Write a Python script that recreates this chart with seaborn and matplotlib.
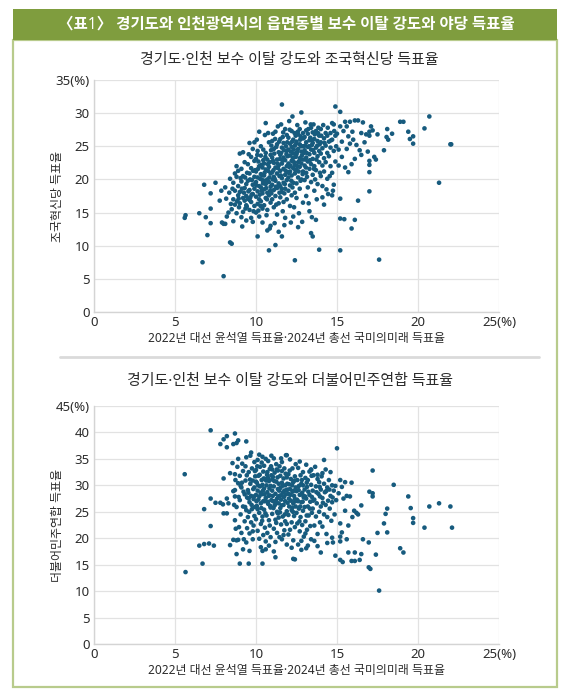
import matplotlib
matplotlib.use("Agg")
import matplotlib.pyplot as plt
import seaborn as sns
import pandas as pd
from matplotlib.patches import Rectangle
from matplotlib.lines import Line2D

# 제목/라벨
header = "〈표1〉 경기도와 인천광역시의 읍면동별 보수 이탈 강도와 야당 득표율"
title1 = "경기도·인천 보수 이탈 강도와 조국혁신당 득표율"
title2 = "경기도·인천 보수 이탈 강도와 더불어민주연합 득표율"
xlabel = "2022년 대선 윤석열 득표율·2024년 총선 국미의미래 득표율"
ylabel1 = "조국혁신당 득표율"
ylabel2 = "더불어민주연합 득표율"

x_ticks = [0, 5, 10, 15, 20, 25]
x_ticklabels = ["0", "5", "10", "15", "20", "25(%)"]
y1_ticks = [0, 5, 10, 15, 20, 25, 30, 35]
y1_ticklabels = ["0", "5", "10", "15", "20", "25", "30", "35(%)"]
y2_ticks = [0, 5, 10, 15, 20, 25, 30, 35, 40, 45]
y2_ticklabels = ["0", "5", "10", "15", "20", "25", "30", "35", "40", "45(%)"]

# 조국혁신당 (x: 보수 이탈 강도, y: 득표율)
x1 = [5.6, 5.65, 6.5, 6.7, 6.8, 6.9, 7.0, 7.2, 7.2, 7.2, 7.5, 7.76, 7.86, 7.9, 8.0, 8.0, 8.1, 8.1, 8.16, 8.4,
      8.4, 8.5, 8.3, 8.2, 8.45, 8.35,
      8.5, 8.6, 8.6, 8.7, 8.7, 8.8, 8.8, 8.9, 8.9, 8.9, 8.6, 8.8, 8.55, 8.95, 8.7,
      9.0, 9.0, 9.1, 9.1, 9.1, 9.2, 9.2, 9.2, 9.3, 9.3, 9.3, 9.4, 9.4, 9.4, 9.0, 9.2, 9.45, 9.35, 9.15, 9.05, 9.25, 9.4,
      9.5, 9.5, 9.5, 9.6, 9.6, 9.6, 9.6, 9.7, 9.7, 9.7, 9.7, 9.8, 9.8, 9.8, 9.8, 9.9, 9.9, 9.9, 9.9, 9.55, 9.65, 9.75,
      9.85, 9.95, 9.6, 9.9,
      10.0, 10.0, 10.0, 10.0, 10.0, 10.1, 10.1, 10.1, 10.1, 10.1, 10.2, 10.2, 10.2, 10.2, 10.3, 10.3, 10.3, 10.3, 10.3,
      10.4, 10.4, 10.4, 10.4, 10.4, 10.05, 10.15, 10.25, 10.35, 10.45, 10.2, 10.45, 10.15,
      10.5, 10.5, 10.5, 10.5, 10.6, 10.6, 10.6, 10.6, 10.6, 10.7, 10.7, 10.7, 10.7, 10.7, 10.8, 10.8, 10.8, 10.8, 10.8,
      10.9, 10.9, 10.9, 10.9, 10.9, 10.55, 10.65, 10.75, 10.85, 10.95, 10.55, 10.75, 10.95, 10.85,
      11.0, 11.0, 11.0, 11.0, 11.0, 11.1, 11.1, 11.1, 11.1, 11.1, 11.2, 11.2, 11.2, 11.2, 11.2, 11.3, 11.3, 11.3, 11.3,
      11.3, 11.4, 11.4, 11.4, 11.4, 11.4, 11.05, 11.15, 11.25, 11.35, 11.45, 11.05, 11.25, 11.45, 11.15, 11.35,
      11.5, 11.5, 11.5, 11.5, 11.5, 11.6, 11.6, 11.6, 11.6, 11.6, 11.6, 11.7, 11.7, 11.7, 11.7, 11.7, 11.8, 11.8, 11.8,
      11.8, 11.8, 11.9, 11.9, 11.9, 11.9, 11.9, 11.55, 11.65, 11.75, 11.85, 11.95, 11.55, 11.75, 11.95, 11.65,
      12.0, 12.0, 12.0, 12.0, 12.0, 12.1, 12.1, 12.1, 12.1, 12.1, 12.2, 12.2, 12.2, 12.2, 12.2, 12.3, 12.3, 12.3, 12.3,
      12.3, 12.4, 12.4, 12.4, 12.4, 12.4, 12.05, 12.15, 12.25, 12.35, 12.45, 12.05, 12.25, 12.45, 12.15, 12.35,
      12.5, 12.5, 12.5, 12.5, 12.5, 12.6, 12.6, 12.6, 12.6, 12.6, 12.7, 12.7, 12.7, 12.7, 12.7, 12.8, 12.8, 12.8, 12.8,
      12.8, 12.9, 12.9, 12.9, 12.9, 12.9, 12.55, 12.65, 12.75, 12.85, 12.95, 12.55, 12.75,
      13.0, 13.0, 13.0, 13.0, 13.1, 13.1, 13.1, 13.1, 13.1, 13.2, 13.2, 13.2, 13.2, 13.3, 13.3, 13.3, 13.3, 13.4, 13.4,
      13.4, 13.4, 13.4, 13.05, 13.15, 13.25, 13.35, 13.45, 13.5, 13.45, 13.05,
      13.5, 13.5, 13.5, 13.5, 13.6, 13.6, 13.6, 13.6, 13.7, 13.7, 13.7, 13.7, 13.8, 13.8, 13.8, 13.9, 13.9, 13.9, 13.9,
      13.55, 13.65, 13.75, 13.85, 13.95,
      14.0, 14.0, 14.0, 14.0, 14.1, 14.1, 14.1, 14.2, 14.2, 14.2, 14.3, 14.3, 14.3, 14.4, 14.4, 14.4, 14.45, 14.15,
      14.35, 14.1, 14.2, 14.7,
      14.5, 14.5, 14.6, 14.6, 14.6, 14.7, 14.7, 14.7, 14.8, 14.8, 14.8, 14.9, 14.9, 14.9, 14.55, 14.75, 14.95,
      15.0, 15.1, 15.1, 15.2, 15.2, 15.2, 15.2, 15.2, 15.3, 15.3, 15.4, 15.45, 15.5, 15.5, 15.6, 15.6, 15.7, 15.7,
      15.8, 15.8, 15.9, 15.9, 15.95,
      16.0, 16.1, 16.1, 16.1, 16.2, 16.3, 16.3, 16.4, 16.5, 16.5, 16.6, 16.7, 16.8, 16.9, 17.0, 17.0, 17.0, 17.0,
      17.0, 17.0,
      17.1, 17.2, 17.3, 17.4, 17.5, 17.6, 17.9, 18.06, 18.1, 18.16, 18.4, 18.9, 19.1, 19.4, 19.5, 19.7, 19.7, 20.4,
      20.7, 21.3, 22.0, 22.05]
y1 = [14.2, 14.6, 14.9, 7.5, 19.2, 14.3, 11.6, 17.9, 15.6, 13.4, 19.5, 16.8, 18.3, 13.5, 13.3, 5.4, 13.3, 18.8, 17.1, 20.1,
      10.5, 10.3, 15.0, 14.4, 16.3, 18.0,
      15.5, 17.0, 19.5, 16.2, 18.3, 20.4, 14.9, 17.6, 19.0, 21.3, 13.7, 22.0, 18.6, 15.8, 20.9,
      16.4, 18.1, 19.7, 21.6, 14.3, 17.2, 15.1, 20.5, 18.7, 16.8, 22.6, 19.3, 17.5, 13.8, 23.9, 24.1, 21.0, 15.6, 12.9, 20.2, 18.0, 16.1,
      17.1, 19.8, 22.3, 15.4, 18.4, 20.9, 25.5, 16.6, 21.7, 23.4, 14.2, 17.8, 19.2, 24.6, 13.6, 16.0, 20.4, 22.8, 18.6, 23.8, 17.3, 19.9,
      15.2, 21.4, 16.9, 25.6,
      17.4, 19.6, 21.2, 23.1, 15.0, 18.2, 20.3, 16.3, 24.3, 11.4, 17.0, 19.0, 22.0, 14.4, 18.8, 20.8, 16.7, 23.6, 25.0,
      17.9, 19.9, 21.8, 15.6, 13.5, 26.0, 22.7, 20.1, 18.3, 24.5, 27.2, 22.9, 15.3,
      18.5, 20.6, 22.4, 16.1, 19.3, 21.5, 24.0, 17.2, 28.5, 18.0, 20.0, 23.0, 15.4, 12.3, 19.6, 21.9, 25.6, 17.6, 9.3,
      18.9, 20.9, 23.7, 16.5, 13.0, 26.7, 14.6, 27.0, 22.6, 25.1, 19.8, 21.3, 17.9, 12.6,
      19.2, 21.1, 23.3, 17.0, 25.8, 18.4, 20.4, 22.5, 24.6, 15.8, 19.8, 21.8, 17.5, 27.2, 10.1, 18.7, 20.9, 23.0, 25.3,
      14.7, 19.4, 22.1, 16.4, 24.1, 12.1, 26.9, 13.4, 16.2, 28.0, 20.5, 22.8, 24.9, 18.0, 20.1, 21.7,
      19.0, 21.3, 23.7, 17.3, 26.1, 20.2, 22.4, 24.8, 18.1, 31.3, 11.4, 19.5, 21.6, 23.3, 25.5, 16.6, 20.7, 22.9, 18.6,
      27.6, 14.2, 19.9, 22.0, 24.3, 26.7, 17.0, 28.3, 15.2, 13.1, 25.0, 21.1, 24.0, 17.9, 23.5, 26.4,
      20.3, 22.4, 24.5, 18.3, 26.3, 21.2, 23.6, 25.4, 19.1, 16.0, 20.6, 22.8, 24.9, 27.3, 17.6, 21.7, 23.9, 26.0, 19.5,
      14.4, 20.9, 22.2, 25.1, 18.0, 7.8, 28.8, 13.5, 29.5, 15.8, 23.4, 21.9, 18.8, 26.6, 24.2, 22.6,
      21.5, 23.8, 25.7, 19.4, 17.2, 22.6, 24.6, 26.8, 20.3, 12.8, 21.9, 23.2, 25.3, 27.6, 18.6, 22.4, 24.2, 26.2, 30.1,
      20.0, 23.0, 25.0, 27.0, 21.2, 16.5, 28.2, 14.9, 19.8, 13.6, 24.0, 22.0, 26.5,
      22.1, 24.4, 26.4, 19.9, 23.3, 25.6, 27.4, 21.0, 17.5, 22.7, 24.9, 26.9, 18.8, 23.8, 25.9, 21.6, 15.2, 24.5, 27.8,
      22.3, 19.6, 11.9, 28.6, 20.4, 16.4, 26.3, 14.3, 11.4, 25.2, 23.0,
      23.1, 25.5, 27.1, 20.7, 24.0, 26.1, 22.0, 18.3, 24.8, 27.3, 21.4, 13.9, 23.5, 25.8, 19.3, 24.3, 26.6, 22.6, 9.4,
      28.3, 20.0, 17.0, 27.8, 21.0,
      23.9, 25.6, 27.6, 20.5, 24.7, 22.1, 19.0, 26.2, 23.2, 21.2, 25.1, 27.0, 22.6, 24.0, 26.6, 20.1, 17.8, 28.2,
      18.5, 17.3, 16.2, 17.6,
      25.7, 23.5, 27.0, 22.0, 24.8, 26.0, 28.5, 21.0, 24.3, 28.3, 19.2, 26.6, 22.7, 31.0, 20.5, 18.3, 25.0,
      26.9, 24.5, 22.1, 30.2, 28.0, 17.1, 14.1, 9.3, 25.7, 23.4, 27.3, 14.0, 28.7, 21.8, 28.0, 24.6, 26.5, 21.1,
      28.7, 25.4, 22.3, 12.6, 27.2,
      26.0, 28.9, 23.1, 13.9, 25.2, 28.9, 16.8, 24.4, 23.7, 27.0, 28.6, 25.6, 26.8, 24.2, 27.2, 26.6, 22.8, 22.2,
      21.1, 18.2,
      28.0, 27.4, 23.4, 23.0, 26.8, 7.9, 24.4, 26.4, 27.6, 26.0, 26.9, 28.7, 28.7, 27.2, 26.1, 26.5, 25.4, 27.7,
      29.5, 19.5, 25.3, 25.3]

# 조국혁신당 - 밀집 구간 추가 점
x1_core = [10.03, 10.13, 10.23, 10.33, 10.43, 10.08, 10.28, 10.38,
           10.53, 10.63, 10.73, 10.83, 10.93, 10.58, 10.68, 10.88,
           11.03, 11.13, 11.23, 11.33, 11.43, 11.08, 11.18, 11.38, 11.48,
           11.53, 11.63, 11.73, 11.83, 11.93, 11.58, 11.68, 11.78, 11.88,
           12.03, 12.13, 12.23, 12.33, 12.43, 12.08, 12.18, 12.28, 12.38, 12.48,
           12.53, 12.63, 12.73, 12.83, 12.93, 12.58, 12.68, 12.78, 12.88,
           13.03, 13.13, 13.23, 13.33, 13.43, 13.08, 13.28, 13.38,
           13.53, 13.63, 13.73, 13.83, 13.93, 13.58, 13.78,
           9.53, 9.63, 9.73, 9.83, 9.93, 9.13, 9.33, 9.43, 8.93, 8.83,
           14.03, 14.23, 14.43, 14.63, 14.83]
y1_core = [19.1, 21.6, 17.7, 22.2, 19.4, 23.7, 16.0, 20.6,
           21.0, 18.7, 22.3, 20.3, 24.4, 23.4, 17.0, 18.3,
           20.0, 23.9, 18.9, 22.4, 25.7, 21.4, 26.1, 19.0, 23.1,
           20.6, 22.9, 24.4, 21.3, 25.6, 18.6, 27.1, 19.3, 23.8,
           21.0, 22.1, 25.7, 24.5, 21.4, 27.5, 19.8, 23.2, 27.0, 25.4,
           24.1, 21.2, 26.0, 23.6, 26.2, 27.2, 22.8, 25.0, 20.8,
           25.1, 24.0, 27.6, 22.9, 26.0, 21.8, 25.0, 28.3,
           24.4, 26.8, 23.0, 27.0, 25.3, 21.6, 25.1,
           18.2, 20.0, 17.7, 21.3, 19.3, 18.6, 20.3, 15.9, 17.1, 16.7,
           26.6, 25.5, 27.8, 25.9, 27.3]

# 더불어민주연합
x2 = [5.6, 5.65, 6.5, 6.7, 6.8, 6.8, 7.1, 7.2, 7.2, 7.2, 7.4, 7.5, 7.8, 7.8, 7.96, 8.0, 8.0, 8.0, 8.2, 8.2, 8.2,
      8.2, 8.3, 8.4, 8.4, 8.6, 8.6, 8.7, 8.7, 8.7, 8.7, 8.8, 8.8, 8.9, 8.9, 9.0, 9.4, 9.55, 10.4, 11.2, 12.3, 11.9,
      12.4, 12.8, 13.1, 13.4, 13.8,
      8.55, 8.6, 8.7, 8.75, 8.8, 8.85, 8.9, 8.95, 8.65, 8.9, 8.8,
      9.0, 9.0, 9.05, 9.1, 9.1, 9.15, 9.2, 9.2, 9.25, 9.3, 9.3, 9.35, 9.4, 9.4, 9.45, 9.45, 9.2, 9.35, 9.05, 9.4,
      9.5, 9.5, 9.55, 9.6, 9.6, 9.65, 9.65, 9.7, 9.7, 9.75, 9.75, 9.8, 9.8, 9.85, 9.85, 9.9, 9.9, 9.95, 9.95, 9.6,
      9.7, 9.55, 9.8, 9.9,
      10.0, 10.0, 10.0, 10.05, 10.05, 10.1, 10.1, 10.1, 10.15, 10.15, 10.2, 10.2, 10.2, 10.25, 10.25, 10.3, 10.3,
      10.35, 10.35, 10.4, 10.4, 10.4, 10.45, 10.45, 10.45, 10.3, 10.1, 10.35, 10.0, 10.2, 10.4,
      10.5, 10.5, 10.5, 10.55, 10.55, 10.6, 10.6, 10.6, 10.65, 10.65, 10.7, 10.7, 10.7, 10.75, 10.75, 10.8, 10.8,
      10.8, 10.85, 10.85, 10.9, 10.9, 10.9, 10.95, 10.95, 10.6, 10.75, 10.55, 10.85, 10.95,
      11.0, 11.0, 11.0, 11.05, 11.05, 11.1, 11.1, 11.1, 11.15, 11.15, 11.2, 11.2, 11.2, 11.25, 11.25, 11.3, 11.3,
      11.3, 11.35, 11.35, 11.4, 11.4, 11.4, 11.45, 11.45, 11.45, 11.1, 11.25, 11.0, 11.35, 11.2,
      11.5, 11.5, 11.5, 11.55, 11.55, 11.6, 11.6, 11.6, 11.65, 11.65, 11.7, 11.7, 11.75, 11.75, 11.75, 11.8, 11.8,
      11.8, 11.85, 11.85, 11.9, 11.9, 11.9, 11.95, 11.95, 11.6, 11.7, 11.55, 11.9,
      12.0, 12.0, 12.0, 12.05, 12.05, 12.1, 12.1, 12.1, 12.15, 12.15, 12.2, 12.2, 12.25, 12.25, 12.3, 12.3, 12.3,
      12.35, 12.35, 12.4, 12.4, 12.45, 12.45, 12.2, 12.45, 12.0, 12.25, 12.4,
      12.5, 12.5, 12.55, 12.55, 12.6, 12.6, 12.65, 12.65, 12.7, 12.7, 12.75, 12.75, 12.8, 12.8, 12.85, 12.85, 12.9,
      12.9, 12.95, 12.95, 12.6, 12.8, 12.7, 12.9,
      13.0, 13.0, 13.05, 13.05, 13.1, 13.1, 13.15, 13.15, 13.2, 13.2, 13.25, 13.3, 13.3, 13.35, 13.35, 13.4, 13.4,
      13.45, 13.45, 13.2, 13.05, 13.4,
      13.5, 13.5, 13.55, 13.6, 13.6, 13.65, 13.7, 13.7, 13.75, 13.8, 13.8, 13.85, 13.9, 13.9, 13.95, 13.95, 13.8, 13.6,
      14.0, 14.0, 14.05, 14.1, 14.1, 14.2, 14.2, 14.25, 14.3, 14.3, 14.35, 14.4, 14.4, 14.45, 14.2, 14.1, 14.0, 14.4,
      14.5, 14.55, 14.6, 14.6, 14.65, 14.7, 14.7, 14.75, 14.7, 14.8, 14.85, 14.9, 14.9, 14.95, 15.0,
      15.1, 15.2, 15.2, 15.2, 15.2, 15.2, 15.3, 15.3, 15.35, 15.4, 15.5, 15.5, 15.6, 15.6, 15.7, 15.7, 15.8, 15.9,
      15.9, 15.95,
      16.06, 16.1, 16.1, 16.2, 16.3, 16.4, 16.5, 16.5, 16.6, 16.96, 16.96, 17.0,
      17.06, 17.2, 17.2, 17.2, 17.4, 17.5, 17.6, 17.9, 18.0, 18.1, 18.1, 18.5, 18.9, 19.1, 19.4, 19.55, 19.7, 19.7,
      20.4, 20.7, 21.3, 22.0, 22.1]
y2 = [32.1, 13.6, 18.6, 15.2, 18.9, 25.5, 19.0, 40.4, 27.5, 22.3, 18.6, 26.7, 26.7, 37.8, 26.4, 38.7, 31.3, 24.7, 24.7, 39.3, 37.2,
      27.5, 26.6, 32.3, 18.7, 37.8, 19.7, 39.8, 32.1, 29.1, 27.9, 38.0, 17.0, 38.5, 19.7, 15.2, 38.3, 15.2, 15.2, 16.4, 16.1, 35.7,
      16.0, 17.8, 18.1, 32.9, 32.0,
      34.2, 28.9, 23.4, 21.8, 25.9, 33.5, 30.4, 22.1, 26.3, 35.0, 19.6,
      27.2, 31.8, 24.5, 29.6, 21.0, 34.1, 26.0, 32.7, 19.8, 28.3, 23.2, 30.9, 25.3, 35.3, 27.7, 21.9, 17.9, 33.6, 29.9, 19.2,
      29.1, 24.0, 32.5, 26.8, 20.9, 30.3, 35.6, 28.0, 23.0, 33.2, 25.5, 30.9, 19.8, 27.4, 22.4, 29.6, 34.4, 25.9, 31.7, 17.6,
      36.2, 27.5, 21.3, 24.2,
      28.2, 32.9, 23.6, 30.5, 26.1, 34.8, 21.4, 29.0, 27.3, 31.8, 24.8, 35.8, 19.9, 29.8, 33.5, 26.6, 22.7,
      31.0, 28.3, 24.1, 35.4, 30.1, 27.0, 20.6, 32.6, 18.3, 25.5, 34.3, 30.7, 27.9, 17.6,
      29.4, 25.4, 33.7, 22.0, 31.2, 27.6, 35.0, 19.4, 30.0, 24.3, 28.7, 32.5, 21.0, 26.5, 34.6, 30.8, 23.4,
      18.6, 28.1, 33.1, 25.8, 29.9, 20.2, 31.9, 27.2, 17.9, 31.4, 27.0, 22.4, 35.6,
      29.0, 24.6, 33.0, 27.0, 31.6, 21.8, 29.8, 35.1, 26.2, 32.4, 28.4, 23.5, 19.3, 30.7, 34.0, 27.5, 25.0,
      21.0, 29.3, 32.8, 26.6, 30.3, 23.9, 28.0, 33.6, 20.2, 17.5, 22.9, 31.1, 24.7, 26.5,
      29.5, 25.7, 31.8, 27.3, 22.6, 30.5, 34.4, 19.8, 28.6, 24.1, 31.3, 26.3, 29.0, 33.2, 21.5, 27.0, 30.0,
      23.2, 35.7, 28.3, 25.1, 31.5, 18.8, 29.2, 26.7, 32.7, 20.6, 35.1, 22.7,
      28.4, 24.4, 32.1, 30.2, 26.0, 21.6, 29.3, 34.9, 27.1, 31.2, 25.3, 23.0, 28.8, 33.2, 26.6, 30.6, 19.6,
      24.2, 28.0, 31.7, 22.1, 29.6, 26.0, 18.2, 34.0, 20.7, 25.8, 27.4,
      28.9, 24.8, 31.0, 22.8, 27.0, 33.3, 29.9, 25.6, 21.3, 28.2, 31.9, 24.0, 26.8, 30.3, 22.5, 28.6, 25.2,
      32.5, 27.7, 20.3, 18.8, 19.5, 34.5, 30.0,
      29.2, 25.9, 23.2, 31.4, 27.5, 33.9, 21.6, 29.7, 26.0, 31.0, 24.3, 28.2, 32.6, 22.3, 26.9, 30.1, 19.8,
      27.8, 24.8, 18.6, 20.9, 33.0,
      29.0, 25.6, 31.9, 22.4, 27.3, 33.5, 29.8, 24.1, 26.6, 31.2, 20.8, 28.4, 25.0, 30.6, 23.0, 27.9, 18.5, 19.5,
      29.2, 26.0, 31.7, 22.2, 27.6, 30.3, 24.5, 28.7, 33.0, 26.3, 20.8, 29.6, 24.0, 27.1, 34.8, 32.3, 17.3, 19.1,
      31.0, 25.6, 32.5, 28.0, 23.3, 30.0, 26.8, 19.2, 20.1, 29.0, 24.5, 29.9, 16.7, 27.2, 37.0,
      28.5, 31.0, 22.8, 20.3, 19.4, 15.9, 29.7, 21.1, 15.5, 27.5, 30.6, 25.2, 28.0, 19.8, 22.4, 17.3, 27.9, 30.5,
      15.7, 24.0,
      25.2, 15.7, 17.3, 24.8, 24.5, 15.9, 26.2, 17.0, 19.8, 19.2, 14.5, 28.8,
      14.2, 28.5, 27.9, 32.8, 16.9, 21.0, 10.1, 22.8, 24.6, 25.6, 21.1, 30.1, 18.1, 17.3, 27.9, 25.7, 23.8, 22.9,
      22.0, 26.0, 26.6, 26.0, 22.0]

# 더불어민주연합 - 밀집 구간 추가 점
x2_core = [9.53, 9.63, 9.73, 9.83, 9.93, 9.58, 9.88,
           10.03, 10.13, 10.23, 10.33, 10.43, 10.08, 10.28, 10.38, 10.48,
           10.53, 10.63, 10.73, 10.83, 10.93, 10.58, 10.68, 10.78, 10.88,
           11.03, 11.13, 11.23, 11.33, 11.43, 11.08, 11.28, 11.38, 11.48,
           11.53, 11.63, 11.73, 11.83, 11.93, 11.58, 11.78, 11.88,
           12.03, 12.13, 12.23, 12.33, 12.43, 12.08, 12.28, 12.38,
           12.53, 12.63, 12.73, 12.83, 12.93, 12.68, 12.88,
           13.03, 13.13, 13.23, 13.33, 13.43, 13.13,
           13.53, 13.73, 13.93, 14.13, 14.33, 14.53, 14.73,
           9.13, 9.23, 9.33, 9.43, 8.93, 8.73]
y2_core = [28.6, 31.1, 26.3, 29.3, 32.7, 25.0, 27.9,
           27.0, 30.0, 32.0, 25.7, 29.0, 33.6, 28.6, 23.3, 31.3,
           28.3, 30.9, 26.9, 29.4, 33.6, 24.7, 32.0, 28.0, 26.1,
           28.0, 30.8, 27.1, 31.5, 29.0, 25.7, 33.0, 27.9, 24.9,
           28.1, 29.9, 27.8, 32.2, 30.3, 26.2, 24.5, 29.1,
           27.5, 28.2, 30.0, 29.0, 27.0, 32.8, 25.0, 30.9,
           27.3, 29.1, 26.0, 31.0, 28.0, 23.2, 26.9,
           27.9, 30.5, 28.8, 25.6, 31.8, 24.3,
           27.1, 28.7, 29.7, 26.7, 28.9, 29.2, 27.7,
           30.5, 28.8, 25.9, 31.9, 27.8, 31.0]

dot_color = "#175b7e"
grid_color = "#e2e2e2"
text_color = "#2b2b2b"

sns.set_theme(style="white")
plt.rcParams["font.family"] = ["Noto Sans", "Noto Sans CJK KR", "DejaVu Sans"]

fig = plt.figure(figsize=(5.76, 7.0), dpi=100)

# 바깥 테두리와 제목 띠
fig.patches.append(Rectangle((0.0226, 0.0186), 0.9444, 0.9243, transform=fig.transFigure,
                             facecolor="none", edgecolor="#b8cb8c", linewidth=1.6, zorder=-1))
fig.patches.append(Rectangle((0.0226, 0.9429), 0.9444, 0.0443, transform=fig.transFigure,
                             facecolor="#7f9d3e", edgecolor="none", zorder=1))
fig.text(0.497, 0.9645, header, color="white", fontsize=11.2, fontweight="bold",
         ha="center", va="center")

# 가운데 구분선
fig.add_artist(Line2D([0.105, 0.935], [0.49, 0.49], transform=fig.transFigure,
                      color="#dadada", linewidth=2))


def draw_panel(ax, xs, ys, yticks, yticklabels, ymax, ylabel):
    df = pd.DataFrame({"x": xs, "y": ys})
    sns.scatterplot(data=df, x="x", y="y", ax=ax, s=11, color=dot_color,
                    edgecolor="none", linewidth=0, zorder=3)
    ax.set_xlim(0, 25)
    ax.set_ylim(0, ymax)
    ax.set_xticks(x_ticks)
    ax.set_xticklabels(x_ticklabels)
    ax.set_yticks(yticks)
    ax.set_yticklabels(yticklabels)
    ax.grid(True, color=grid_color, linewidth=0.9)
    ax.set_axisbelow(True)
    for side in ["top", "right"]:
        ax.spines[side].set_visible(False)
    for side in ["left", "bottom"]:
        ax.spines[side].set_color("#d4d4d4")
        ax.spines[side].set_linewidth(1.0)
    ax.tick_params(axis="both", length=0, labelsize=9.5, colors=text_color, pad=3)
    ax.set_xlabel(xlabel, fontsize=8.6, color=text_color, labelpad=2)
    ax.set_ylabel(ylabel, fontsize=8.6, color=text_color)
    ax.yaxis.set_label_coords(-0.073, 0.5)


ax1 = fig.add_axes([0.1632, 0.5543, 0.7031, 0.3314])
draw_panel(ax1, x1 + x1_core, y1 + y1_core, y1_ticks, y1_ticklabels, 35, ylabel1)
fig.text(0.503, 0.913, title1, fontsize=10.8, color=text_color, ha="center", va="center")

ax2 = fig.add_axes([0.1632, 0.08, 0.7031, 0.34])
draw_panel(ax2, x2 + x2_core, y2 + y2_core, y2_ticks, y2_ticklabels, 45, ylabel2)
fig.text(0.503, 0.455, title2, fontsize=10.8, color=text_color, ha="center", va="center")

fig.savefig("out.png", dpi=100)
